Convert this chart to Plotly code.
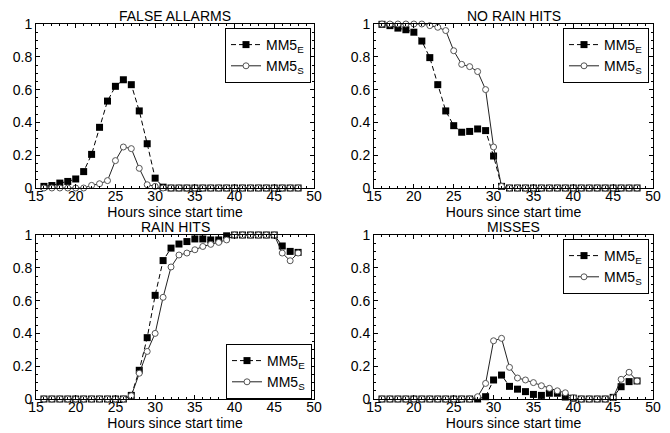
import plotly.graph_objects as go
from plotly.subplots import make_subplots

hours = list(range(16, 49))

false_alarms_e = [0.01, 0.015, 0.03, 0.04, 0.055, 0.10, 0.205, 0.37, 0.53, 0.62, 0.66, 0.63, 0.47, 0.27, 0.06, 0.005,
                  0, 0, 0, 0, 0, 0, 0, 0, 0, 0, 0, 0, 0, 0, 0, 0, 0]
false_alarms_s = [0, 0, 0, 0, 0, 0, 0.016, 0.026, 0.045, 0.167, 0.25, 0.24, 0.12, 0.02, 0.01, 0,
                  0, 0, 0, 0, 0, 0, 0, 0, 0, 0, 0, 0, 0, 0, 0, 0, 0]

no_rain_e = [0.998, 0.99, 0.975, 0.965, 0.95, 0.896, 0.795, 0.63, 0.47, 0.38, 0.34, 0.345, 0.36, 0.35, 0.195, 0.01,
             0, 0, 0, 0, 0, 0, 0, 0, 0, 0, 0, 0, 0, 0, 0, 0, 0]
no_rain_s = [1.0, 1.0, 1.0, 1.0, 1.0, 1.0, 0.99, 0.98, 0.96, 0.837, 0.754, 0.74, 0.71, 0.60, 0.25, 0.01,
             0, 0, 0, 0, 0, 0, 0, 0, 0, 0, 0, 0, 0, 0, 0, 0, 0]

rain_hits_e = [0, 0, 0, 0, 0, 0, 0, 0, 0, 0, 0, 0.022, 0.175, 0.374, 0.632, 0.844, 0.92, 0.945, 0.96, 0.976,
               0.976, 0.97, 0.97, 0.995, 1.0, 1.0, 1.0, 1.0, 1.0, 1.0, 0.933, 0.9, 0.894]
rain_hits_s = [0, 0, 0, 0, 0, 0, 0, 0, 0, 0, 0, 0.02, 0.157, 0.29, 0.40, 0.62, 0.805, 0.878, 0.89, 0.91,
               0.93, 0.943, 0.955, 0.97, 1.0, 1.0, 1.0, 1.0, 1.0, 1.0, 0.89, 0.843, 0.89]

misses_e = [0, 0, 0, 0, 0, 0, 0, 0, 0, 0, 0, 0, 0, 0.014, 0.116, 0.146, 0.077, 0.06, 0.045, 0.028,
            0.022, 0.035, 0.035, 0.012, 0.005, 0, 0, 0, 0, 0.01, 0.075, 0.106, 0.11]
misses_s = [0, 0, 0, 0, 0, 0, 0, 0, 0, 0, 0, 0, 0.014, 0.095, 0.355, 0.37, 0.193, 0.128, 0.116, 0.1,
            0.081, 0.065, 0.05, 0.038, 0.008, 0, 0, 0, 0, 0.008, 0.12, 0.163, 0.11]

panel_titles = ["FALSE ALLARMS", "NO RAIN HITS", "RAIN HITS", "MISSES"]
panel_e = [false_alarms_e, no_rain_e, rain_hits_e, misses_e]
panel_s = [false_alarms_s, no_rain_s, rain_hits_s, misses_s]
x_tick_vals = [15, 20, 25, 30, 35, 40, 45, 50]
y_tick_vals = [0, 0.2, 0.4, 0.6, 0.8, 1]
y_tick_text = ["0", "0.2", "0.4", "0.6", "0.8", "1"]

FONT = "Liberation Sans, Arial, Helvetica, sans-serif"
FS = 14
OFF = 8  # page body margin
W, H = 670 - OFF, 433 - OFF

fig = make_subplots(rows=2, cols=2)

# window-pixel boxes (left, right, top, bottom)
boxes = [(36, 314, 24, 188), (374, 653, 24, 188), (36, 314, 235, 399), (374, 653, 235, 399)]
legend_pos = [(311, 28), (649, 28), (312, 344), (649, 239)]
legend_names = ["legend", "legend2", "legend3", "legend4"]


def px(xw):
    return (xw - OFF) / W


def py(yw):
    return 1 - (yw - OFF) / H


for i in range(4):
    r, c = i // 2 + 1, i % 2 + 1
    lg = legend_names[i]
    fig.add_trace(go.Scatter(
        x=hours, y=panel_e[i], mode="lines+markers", name="MM5<sub>E</sub>",
        line=dict(color="black", width=1, dash="5px,3px"),
        marker=dict(symbol="square", size=7, color="black"),
        cliponaxis=False, legend=lg), row=r, col=c)
    fig.add_trace(go.Scatter(
        x=hours, y=panel_s[i], mode="lines+markers", name="MM5<sub>S</sub>",
        line=dict(color="#222222", width=1),
        marker=dict(symbol="circle", size=6, color="white", line=dict(color="#555555", width=1)),
        cliponaxis=False, legend=lg), row=r, col=c)

layout_update = {}
for i in range(4):
    l, rgt, t, b = boxes[i]
    suffix = "" if i == 0 else str(i + 1)
    layout_update["xaxis" + suffix] = dict(
        domain=[px(l), px(rgt)], range=[15, 50], tickvals=x_tick_vals, automargin=False,
        ticks="inside", ticklen=4, tickcolor="black", showline=True, linecolor="black", linewidth=1,
        mirror="allticks", showgrid=False, zeroline=False, ticklabelstandoff=-5,
        minor=dict(dtick=1, ticks="inside", ticklen=2, tickcolor="black", showgrid=False),
        tickfont=dict(family=FONT, size=FS, color="black"),
        title=dict(text="Hours since start time", font=dict(family=FONT, size=FS, color="black"), standoff=0),
    )
    layout_update["yaxis" + suffix] = dict(
        domain=[py(b), py(t)], range=[0, 1], tickvals=y_tick_vals, ticktext=y_tick_text,
        automargin=False,
        ticks="inside", ticklen=4, tickcolor="black", showline=True, linecolor="black", linewidth=1,
        mirror="allticks", showgrid=False, zeroline=False,
        minor=dict(dtick=0.05, ticks="inside", ticklen=2, tickcolor="black", showgrid=False),
        tickfont=dict(family=FONT, size=FS, color="black"),
    )
    lx, ly = legend_pos[i]
    layout_update[legend_names[i]] = dict(
        x=px(lx), y=py(ly), xanchor="right", yanchor="top",
        bordercolor="black", borderwidth=1, bgcolor="white",
        font=dict(family=FONT, size=FS, color="black"), itemwidth=30,
        tracegroupgap=0,
    )

fig.update_layout(**layout_update)

for i in range(4):
    l, rgt, t, b = boxes[i]
    fig.add_annotation(
        text=panel_titles[i], x=px((l + rgt) / 2), y=py(t - 8),
        xref="paper", yref="paper", xanchor="center", yanchor="middle", showarrow=False,
        font=dict(family=FONT, size=FS, color="black"))

fig.update_layout(
    width=W, height=H, margin=dict(l=0, r=0, t=0, b=0, autoexpand=False),
    paper_bgcolor="white", plot_bgcolor="white", showlegend=True,
)

fig.write_html("out.html")
